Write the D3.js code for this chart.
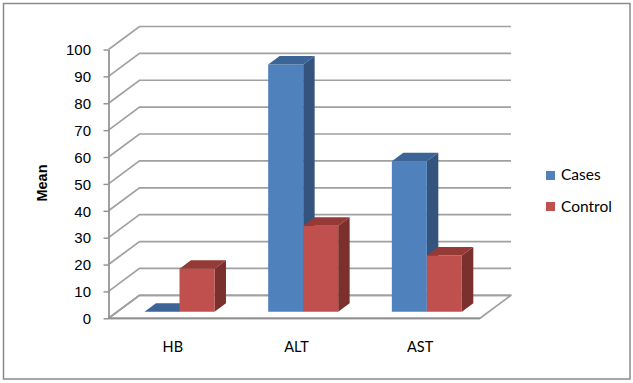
<!DOCTYPE html>
<html><head><meta charset="utf-8">
<script src="https://cdn.jsdelivr.net/npm/d3@7"></script>
<style>body{margin:0;background:#fff}svg{display:block}</style>
</head><body>
<svg id="chart" width="633" height="383"></svg>
<script>
const categories = ["HB", "ALT", "AST"];
const seriesNames = ["Cases", "Control"];
const casesValues = [0, 92, 56];
const controlValues = [16, 32, 21];
const yTickValues = [0, 10, 20, 30, 40, 50, 60, 70, 80, 90, 100];
const yTitle = "Mean";

const colors = {
  Cases: {front: "#4F81BD", top: "#3C6496", side: "#34547E"},
  Control: {front: "#C0504D", top: "#953A37", side: "#7B302E"}
};

const svg = d3.select("#chart");
const depth = {dx: 31, dy: -23};
const barZ0 = 0.28, barZ1 = 0.65;
const gridColor = "#a0a0a0";

const y = d3.scaleLinear().domain([0, 100]).range([318.3, 49.5]);
const x0 = d3.scaleBand().domain(categories).range([109, 480]).paddingInner(0).paddingOuter(0);
const pairWidth = 70;
const x1 = d3.scaleBand().domain(seriesNames).range([0, pairWidth]);

function P(x, v, z) { return [x + z * depth.dx, y(v) + z * depth.dy]; }

// border
svg.append("rect").attr("x", 3.5).attr("y", 3.5).attr("width", 626.5).attr("height", 375.5)
  .attr("fill", "#fff").attr("stroke", "#8a8a8a").attr("stroke-width", 1.5);

const xL = 108.5, xR = x0.range()[1];

// floor
const floorPts = [P(xL, 0, 0), P(xR, 0, 0), P(xR, 0, 1), P(xL, 0, 1)];
svg.append("polygon").attr("points", floorPts.map(p => p.join(",")).join(" "))
  .attr("fill", "#fff").attr("stroke", gridColor).attr("stroke-width", 1.7).attr("stroke-linejoin", "round");

// grid lines: side wall diagonal + back wall horizontal
const grid = svg.append("g").attr("fill", "none").attr("stroke", gridColor).attr("stroke-width", 1.7);
yTickValues.forEach(v => {
  const a = P(xL, v, 0), b = P(xL, v, 1), c = P(xR, v, 1);
  grid.append("polyline").attr("points", [a, b, c].map(p => p.join(",")).join(" "));
});

// bars
const data = categories.map((c, i) => ({cat: c, values: [
  {s: "Cases", v: casesValues[i]}, {s: "Control", v: controlValues[i]}]}));

const barsG = svg.append("g");
data.forEach(d => {
  const cx = x0(d.cat) + x0.bandwidth() / 2 - pairWidth / 2;
  d.values.forEach(b => {
    const xa = cx + x1(b.s), xb = xa + x1.bandwidth();
    const col = colors[b.s];
    const fr = [P(xa, b.v, barZ0), P(xb, b.v, barZ0), P(xb, 0, barZ0), P(xa, 0, barZ0)];
    const side = [P(xb, b.v, barZ0), P(xb, b.v, barZ1), P(xb, 0, barZ1), P(xb, 0, barZ0)];
    const top = [P(xa, b.v, barZ0), P(xa, b.v, barZ1), P(xb, b.v, barZ1), P(xb, b.v, barZ0)];
    const poly = (pts, fill) => barsG.append("polygon").attr("points", pts.map(p => p.join(",")).join(" ")).attr("fill", fill);
    if (b.v > 0) { poly(side, col.side); poly(fr, col.front); }
    poly(top, col.top);
  });
});

// y axis
const yAxis = d3.axisLeft(y).tickValues(yTickValues).tickSize(5).tickPadding(12.5).tickSizeOuter(0);
const ax = svg.append("g").attr("transform", `translate(${xL},0)`).call(yAxis);
ax.select(".domain").attr("stroke", "#8f8f8f").attr("stroke-width", 1.7);
ax.selectAll(".tick line").attr("stroke", "#8f8f8f").attr("stroke-width", 1.4);
ax.selectAll(".tick text").attr("fill", "#000").attr("font-family", "Liberation Sans, Arial, sans-serif").attr("font-size", "15px").attr("dy", "0.35em");

// front floor edge
svg.append("line").attr("x1", xL).attr("x2", xR).attr("y1", y(0)).attr("y2", y(0))
  .attr("stroke", "#8f8f8f").attr("stroke-width", 1.7);

// category labels
svg.append("g").selectAll("text").data(categories).join("text")
  .attr("x", d => x0(d) + x0.bandwidth() / 2 + 2)
  .attr("y", 352)
  .attr("text-anchor", "middle")
  .attr("font-family", "Lato, sans-serif").attr("font-size", "14.5px").attr("fill", "#000")
  .text(d => d);

// y title
svg.append("text").attr("transform", "translate(47,183) rotate(-90)")
  .attr("text-anchor", "middle").attr("font-family", "Liberation Sans, Arial, sans-serif")
  .attr("font-weight", "bold").attr("font-size", "14.5px").text(yTitle);

// legend
const lg = svg.append("g");
seriesNames.forEach((s, i) => {
  lg.append("rect").attr("x", 546).attr("y", 171 + i * 31).attr("width", 9).attr("height", 9).attr("fill", colors[s].front);
  lg.append("text").attr("x", 561).attr("y", 180 + i * 31.5).attr("font-family", "Lato, sans-serif")
    .attr("font-size", "15.5px").attr("fill", "#000").text(s);
});
</script>
</body></html>
